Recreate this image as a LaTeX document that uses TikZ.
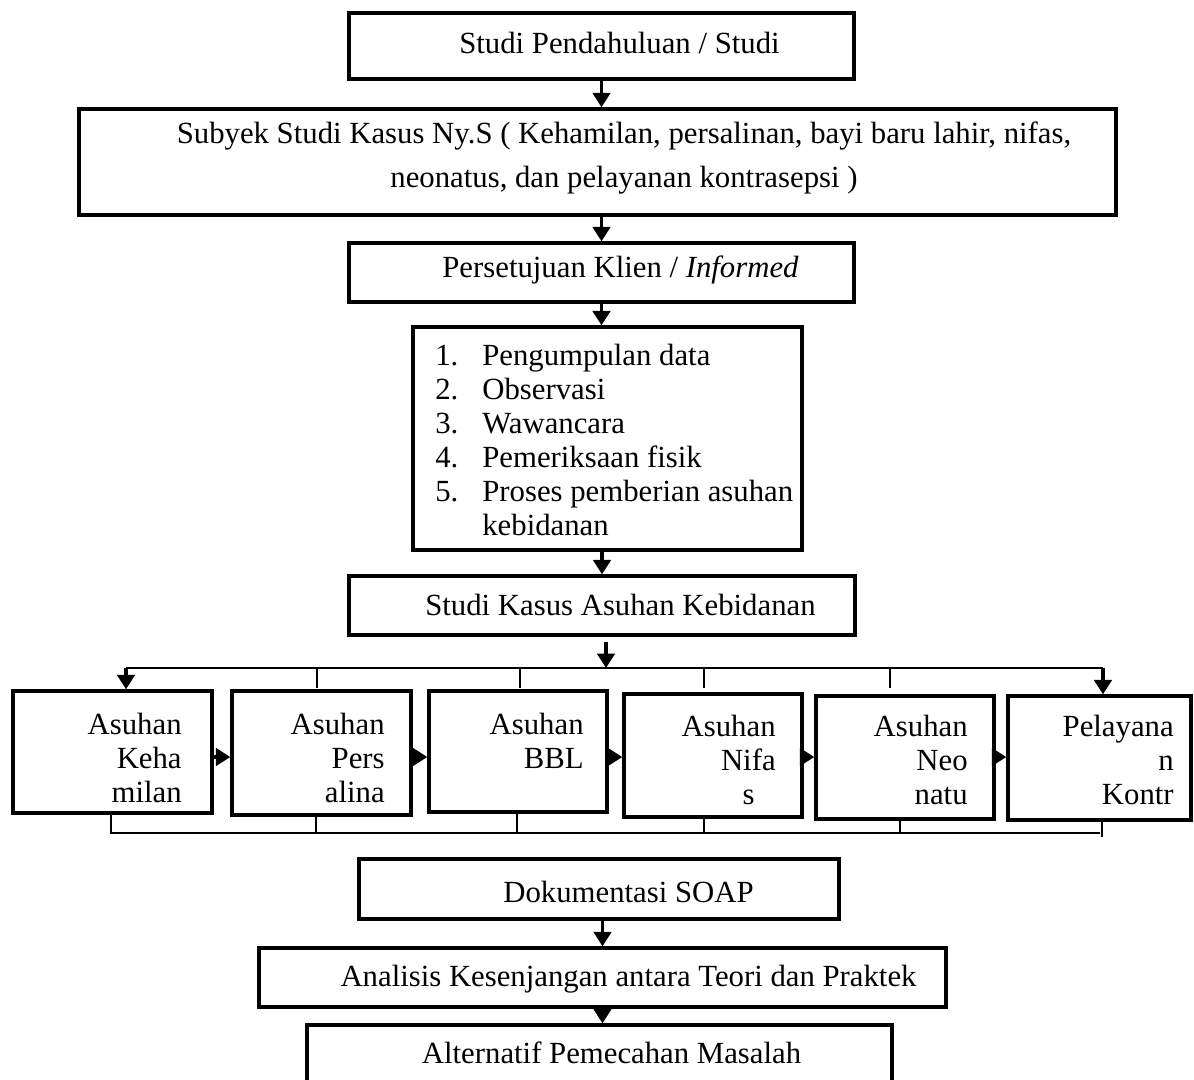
\documentclass[tikz,border=0pt]{standalone}
\usepackage{fontspec}
\setmainfont{Liberation Serif}
\usetikzlibrary{arrows.meta}

\begin{document}
\begin{tikzpicture}[scale=0.2]
            \tikzstyle{every node}+=[inner sep=0pt, font=\fontsize{17.5}{19.3}\selectfont]
            \tikzstyle{box}=[draw, line width=1.9pt]
            \tikzstyle{arr}=[line width=1.9pt, -{Triangle[length=0.29cm, width=0.35cm]}]
            \tikzstyle{bus}=[line width=0.75pt]
            \tikzstyle{rtxt}=[anchor=north east, align=right]
            \useasboundingbox (0,0) rectangle (119.4,-107.9);
            \node [box, minimum width=10.1cm, minimum height=1.32cm] (studi) at (60.15,-4.6) {};
            \draw (61.95,-4.3) node (tstudi) {Studi Pendahuluan / Studi};
            \node [box, minimum width=20.74cm, minimum height=2.12cm] (subyek) at (59.75,-16.2) {};
            \draw (62.4,-15.8) node [align=center] (tsubyek) {Subyek Studi Kasus Ny.S ( Kehamilan, persalinan, bayi baru lahir, nifas,\\[6.2pt] neonatus, dan pelayanan kontrasepsi )};
            \node [box, minimum width=10.1cm, minimum height=1.18cm] (setuju) at (60.15,-27.25) {};
            \draw (62.05,-27.0) node (tsetuju) {Persetujuan Klien / \textit{Informed}};
            \node [box, minimum width=7.78cm, minimum height=4.46cm] (data) at (60.75,-43.85) {};
            \draw (43.5,-34.4) node [anchor=north west, align=left] (tdata) {\makebox[0.94cm][l]{1.}Pengumpulan data\\
                \makebox[0.94cm][l]{2.}Observasi\\
                \makebox[0.94cm][l]{3.}Wawancara\\
                \makebox[0.94cm][l]{4.}Pemeriksaan fisik\\
                \makebox[0.94cm][l]{5.}Proses pemberian asuhan\\
                \hspace*{0.94cm}kebidanan};
            \node [box, minimum width=10.12cm, minimum height=1.18cm] (kasus) at (60.2,-60.55) {};
            \draw (62.05,-60.5) node (tkasus) {Studi Kasus Asuhan Kebidanan};
            \node [box, minimum width=3.98cm, minimum height=2.44cm] (hamil) at (11.25,-75.2) {};
            \draw (18.2,-71.3) node [rtxt] (thamil) {Asuhan\\Keha\\milan};
            \node [box, minimum width=3.58cm, minimum height=2.48cm] (salin) at (32.15,-75.3) {};
            \draw (38.5,-71.3) node [rtxt] (tsalin) {Asuhan\\Pers\\alina};
            \node [box, minimum width=3.56cm, minimum height=2.42cm] (bbl) at (51.8,-75.15) {};
            \draw (58.4,-71.3) node [rtxt] (tbbl) {Asuhan\\BBL};
            \node [box, minimum width=3.56cm, minimum height=2.46cm] (nifas) at (71.3,-75.55) {};
            \draw (77.6,-71.5) node [rtxt] (tnifas) {Asuhan\\Nifa\\s\hspace*{0.42cm}};
            \node [box, minimum width=3.56cm, minimum height=2.46cm] (neo) at (90.5,-75.75) {};
            \draw (96.8,-71.5) node [rtxt] (tneo) {Asuhan\\Neo\\natu};
            \node [box, minimum width=3.66cm, minimum height=2.48cm] (kb) at (109.95,-75.8) {};
            \draw (117.4,-71.5) node [rtxt] (tkb) {Pelayana\\n\hspace*{0.56cm}\\Kontr};
            \node [box, minimum width=9.6cm, minimum height=1.2cm] (soap) at (59.9,-88.9) {};
            \draw (62.85,-89.2) node (tsoap) {Dokumentasi SOAP};
            \node [box, minimum width=13.74cm, minimum height=1.18cm] (analisis) at (60.25,-97.75) {};
            \draw (62.85,-97.9) node (tanalisis) {Analisis Kesenjangan antara Teori dan Praktek};
            \node [box, minimum width=11.7cm, minimum height=1.3cm] (alt) at (59.95,-105.75) {};
            \draw (61.15,-105.3) node (talt) {Alternatif Pemecahan Masalah};
            \coordinate (bt) at (60.6,-66.8);
            \coordinate (bl) at (12.6,-66.8);
            \coordinate (br) at (110.3,-66.8);
            \draw [arr] (studi.south) -- (studi.south |- subyek.north);
            \draw [arr] (setuju.north |- subyek.south) -- (setuju.north);
            \draw [arr] (setuju.south) -- (setuju.south |- data.north);
            \draw [arr] (kasus.north |- data.south) -- (kasus.north);
            \draw [arr, shorten <=1mm] (bt |- kasus.south) -- (bt);
            \draw [bus] (bl) -- (br);
            \draw [arr] (bl) -- (bl |- hamil.north);
            \draw [arr] (br) -- (br |- kb.north);
            \foreach \x in {31.7,52.0,70.4,89.0}
                \draw [bus] (\x,-66.8) -- (\x,-68.8);
            \foreach \p/\q in {hamil/salin, salin/bbl, bbl/nifas, nifas/neo, neo/kb}
                \draw [arr] (\p.east |- 0,-75.7) -- (\q.west |- 0,-75.7);
            \draw [bus] (11.1,0 |- hamil.south) -- (11.1,-83.3) -- (110.0,-83.3);
            \foreach \n/\x in {salin/31.6, bbl/51.7, nifas/70.4, neo/90.0}
                \draw [bus] (\x,0 |- \n.south) -- (\x,-83.3);
            \draw [bus] (110.2,0 |- kb.south) -- (110.2,-83.7);
            \draw [arr] (analisis.north |- soap.south) -- (analisis.north);
            \draw [arr] (analisis.south) -- (analisis.south |- alt.north);
\end{tikzpicture}
\end{document}
